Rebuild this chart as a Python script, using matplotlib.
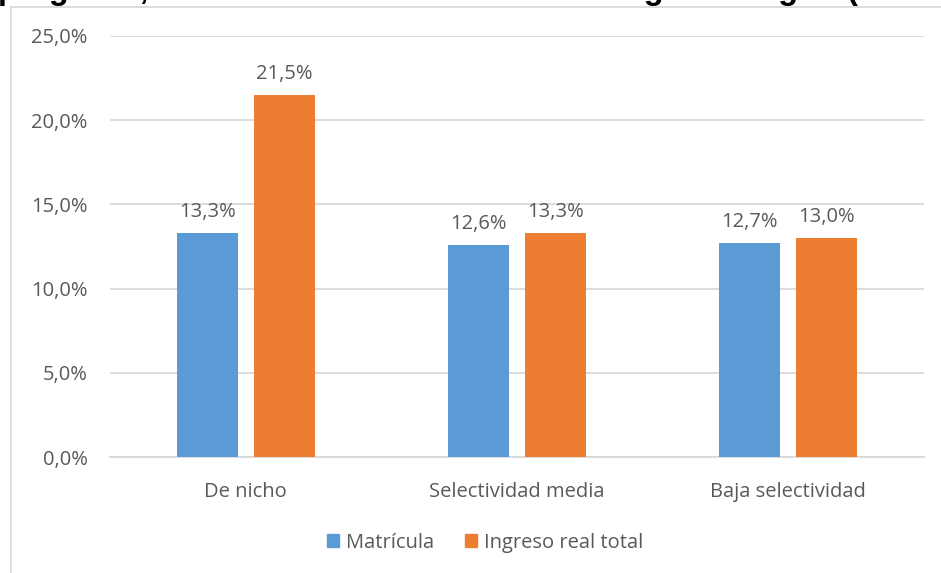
import matplotlib
matplotlib.use("Agg")
import matplotlib.pyplot as plt
from matplotlib.lines import Line2D
from matplotlib.patches import Patch
import numpy as np

categories = ["De nicho", "Selectividad media", "Baja selectividad"]
matricula = [13.3, 12.6, 12.7]
ingreso = [21.5, 13.3, 13.0]
series_names = ["Matrícula", "Ingreso real total"]
yticks = [0, 5, 10, 15, 20, 25]
title_text = "pregrado, crecimiento de la matrícula e ingreso según (2010-2015)"

W, H = 941, 573
fig = plt.figure(figsize=(W / 100, H / 100), dpi=100)
fig.patch.set_facecolor("white")

font = ["Open Sans", "DejaVu Sans"]
txt_color = "#595959"
grid_color = "#D9D9D9"
blue = "#5B9BD5"
orange = "#ED7D31"
fs = 14.5

# axes placement in pixels
x0, x1 = 110, 924
y_top, y_bot = 36, 457
ax = fig.add_axes([x0 / W, 1 - y_bot / H, (x1 - x0) / W, (y_bot - y_top) / H])
ax.set_xlim(-0.5, 2.5)
ax.set_ylim(0, 25)

x = np.arange(len(categories))
bw = 0.225
off = 0.142
b1 = ax.bar(x - off, matricula, bw, color=blue, zorder=3, label=series_names[0])
b2 = ax.bar(x + off, ingreso, bw, color=orange, zorder=3, label=series_names[1])

def fmt(v):
    return f"{v:.1f}".replace(".", ",") + "%"

for bars, vals in ((b1, matricula), (b2, ingreso)):
    for r, v in zip(bars, vals):
        ax.annotate(fmt(v), (r.get_x() + r.get_width() / 2, v), xytext=(0, 15),
                    textcoords="offset points", ha="center", va="center",
                    fontsize=fs, color=txt_color, family=font)

ax.set_yticks(yticks)
ax.set_yticklabels([fmt(t) for t in yticks], fontsize=fs, color=txt_color, family=font)
ax.set_xticks(x)
ax.set_xticklabels(categories, fontsize=fs, color=txt_color, family=font)
ax.tick_params(axis="y", length=0, pad=16)
ax.tick_params(axis="x", length=0, pad=18)
ax.yaxis.grid(True, color=grid_color, linewidth=1.3, zorder=0)
for s in ["top", "right", "left"]:
    ax.spines[s].set_visible(False)
ax.spines["bottom"].set_color(grid_color)
ax.spines["bottom"].set_linewidth(1.3)

leg = fig.legend(handles=[Patch(color=blue), Patch(color=orange)], labels=series_names,
                 loc="center", bbox_to_anchor=(485 / W, 1 - 543 / H), ncol=2, frameon=False,
                 prop={"family": font, "size": fs}, handlelength=0.62, handleheight=0.62,
                 handletextpad=0.35, columnspacing=1.5)
for t in leg.get_texts():
    t.set_color(txt_color)

# chart frame (partially visible)
fig.add_artist(Line2D([11 / W, 1], [1 - 6.5 / H, 1 - 6.5 / H], color=grid_color, lw=1.3))
fig.add_artist(Line2D([11 / W, 11 / W], [0, 1 - 6.5 / H], color=grid_color, lw=1.3))

# clipped title above the chart
fig.text(-2 / W, 1 + 1.5 / H, title_text, ha="left", va="baseline", fontsize=23.5,
         fontweight="bold", family=["Liberation Sans", "DejaVu Sans"], color="black")

fig.savefig("out.png", dpi=100)
